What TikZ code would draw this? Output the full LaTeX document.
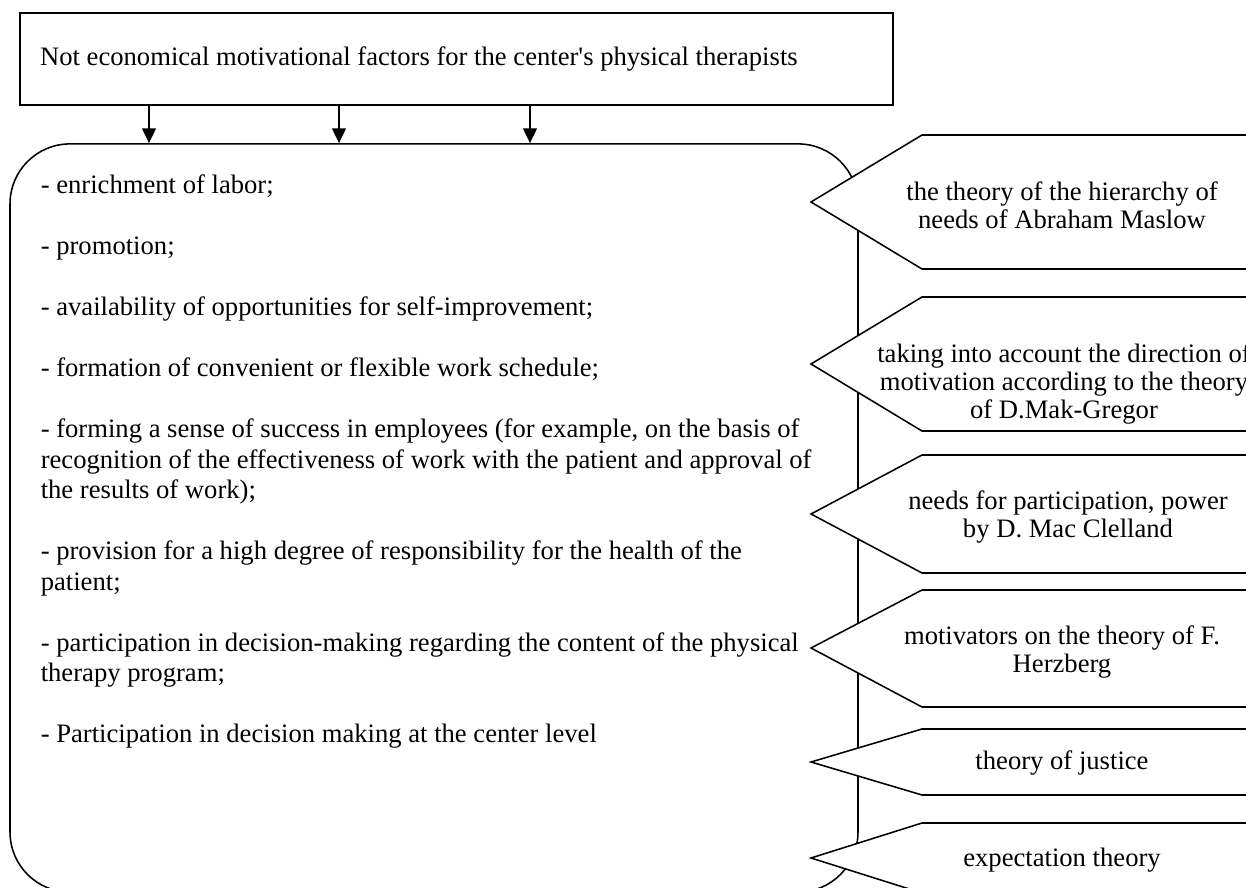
\documentclass[tikz,border=0pt]{standalone}
\usepackage{fontspec}
\setmainfont{Liberation Serif}
\usetikzlibrary{arrows.meta}
\newcommand\tightsp{\spaceskip=0pt\xspaceskip=0pt\relax}

\begin{document}
\begin{tikzpicture}[x=0.01584cm, y=-0.01584cm, line width=0.7pt,
	theory/.style={draw, fill=white},
	theorytext/.style={align=center, font=\fontsize{12pt}{12.5pt}\selectfont},
	plaintext/.style={align=left, font=\fontsize{12pt}{13.75pt}\selectfont},
	factorarrow/.style={-{Triangle[width=6.3pt,length=6.7pt]}}]
	\clip (0,0) rectangle (1246,888);

	\node[draw, plaintext, minimum width=13.83cm, minimum height=1.457cm, inner xsep=0.317cm, text width=13.19cm] (title) at (456.5,59) {\tightsp Not economical motivational factors for the center\textquotesingle s physical therapists};
	\node[draw, rounded corners=0.95cm, minimum width=13.43cm, minimum height=11.85cm] (frame) at (434,518) {};

	\node[plaintext, anchor=north west, inner sep=0pt, text width=13cm] (items) at (40,174) {\tightsp - enrichment of labor;\\[13.75pt]
		- promotion;\\[13.75pt]
		- availability of opportunities for self-improvement;\\[13.75pt]
		- formation of convenient or flexible work schedule;\\[13.75pt]
		- forming a sense of success in employees (for example, on the basis of\\
		recognition of the effectiveness of work with the patient and approval of\\
		the results of work);\\[13.75pt]
		- provision for a high degree of responsibility for the health of the\\
		patient;\\[13.75pt]
		- participation in decision-making regarding the content of the physical\\
		therapy program;\\[13.75pt]
		- Participation in decision making at the center level};

	\foreach \x [count=\i] in {149,339,530} {
		\coordinate (a\i) at (\x,0);
		\draw[factorarrow] (title.south -| a\i) -- (frame.north -| a\i);
	}

	% theories on the right
	\foreach \t/\m/\b in {135/202/269, 297/364/431, 455/514/573, 590/648/707, 729/762/795, 823/858/893}
		\draw[theory] (1300,\t) -- (922,\t) -- (811,\m) -- (922,\b) -- (1300,\b) -- cycle;

	\node[theorytext] (maslow) at (1062,205) {the theory of the hierarchy of\\needs of Abraham Maslow};
	\node[theorytext] (gregor) at (1064,384) {taking into account the direction of\\motivation according to the theory\\of D.Mak-Gregor};
	\node[theorytext] (clelland) at (1068,517) {needs for participation, power\\by D. Mac Clelland};
	\node[theorytext] (herzberg) at (1062,652) {motivators on the theory of F.\\Herzberg};
	\node[theorytext] (justice) at (1062,763) {theory of justice};
	\node[theorytext] (expect) at (1062,860) {expectation theory};
\end{tikzpicture}
\end{document}
